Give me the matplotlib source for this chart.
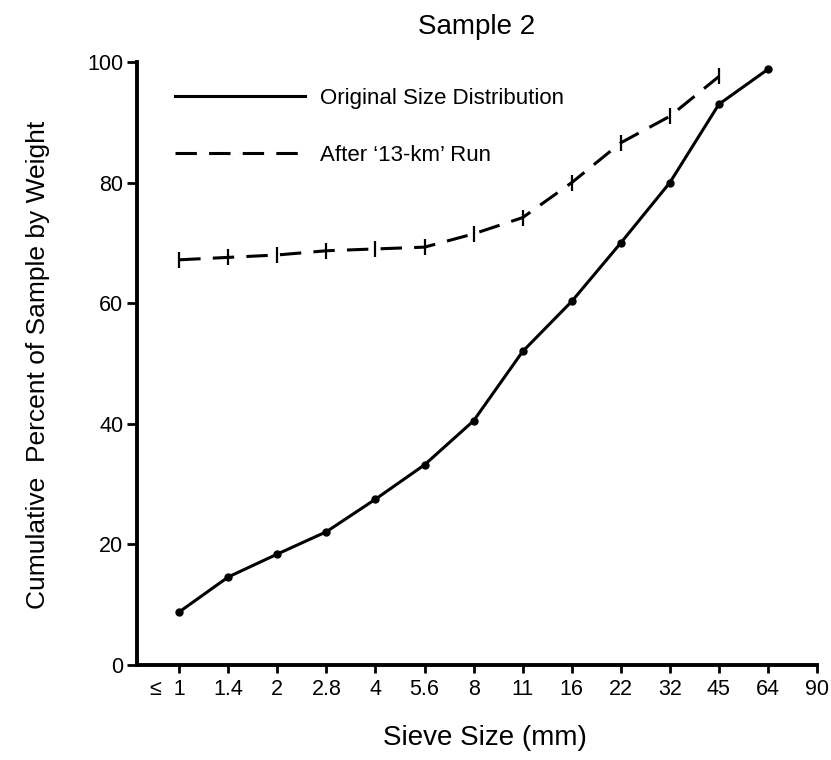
import matplotlib
matplotlib.use("Agg")
import matplotlib.pyplot as plt
import matplotlib.transforms as mtransforms

plt.rcParams['font.family'] = ['Liberation Sans', 'DejaVu Sans']

# sieve sizes (mm), plotted as equally spaced categories
sieve_labels = ['≤  1', '1.4', '2', '2.8', '4', '5.6', '8', '11', '16', '22', '32', '45', '64', '90']

# cumulative percent by weight
original = [8.8, 14.6, 18.4, 22.1, 27.5, 33.2, 40.5, 52.0, 60.3, 70.0, 80.0, 93.0, 98.8]
after_run = [67.2, 67.6, 68.0, 68.7, 69.0, 69.3, 71.5, 74.2, 80.0, 86.6, 91.0, 97.6]

fig = plt.figure(figsize=(8.31, 7.6), dpi=100)
ax = fig.add_axes([0.1649, 0.125, 0.8183, 0.7934])

x1 = list(range(len(original)))
x2 = list(range(len(after_run)))

p1, = ax.plot(x1, original, color='black', lw=2.2, marker='o', ms=5,
              label='Original Size Distribution')
p2, = ax.plot(x2, after_run, color='black', lw=2.2, linestyle=(0, (7, 4)),
              marker='|', ms=11, mew=1.6, label="After \u201813-km\u2019 Run")

ax.set_xlim(-0.86, len(sieve_labels) - 1)
ax.set_ylim(0, 100)
ax.set_xticks(range(len(sieve_labels)))
ax.set_xticklabels(sieve_labels, fontsize=15.5)
ax.set_yticks([0, 20, 40, 60, 80, 100])
ax.tick_params(axis='y', labelsize=15.5, direction='out', length=7, width=2, pad=3)
ax.tick_params(axis='x', direction='out', length=6, width=2, pad=4)

# first label: the "1" sits on its tick, the sign hangs to the left
lab0 = ax.get_xticklabels()[0]
lab0.set_horizontalalignment('right')
lab0.set_transform(lab0.get_transform() + mtransforms.ScaledTranslation(6 / 100, 0, fig.dpi_scale_trans))

for side in ['top', 'right']:
    ax.spines[side].set_visible(False)
for side in ['left', 'bottom']:
    ax.spines[side].set_linewidth(2.8)

ax.set_title('Sample 2', fontsize=20, pad=20)
ax.set_xlabel('Sieve Size (mm)', fontsize=20)
ax.set_ylabel('Cumulative  Percent of Sample by Weight', fontsize=19)
ax.xaxis.set_label_coords(0.512, -0.1)
ax.yaxis.set_label_coords(-0.128, 0.4975)

ax.legend(handles=[p1, p2], loc='upper left', bbox_to_anchor=(0.026, 0.99),
          frameon=False, fontsize=16, handlelength=5.85, handletextpad=0.68,
          labelspacing=1.6, markerscale=0.01)

fig.savefig('out.png', dpi=100)
